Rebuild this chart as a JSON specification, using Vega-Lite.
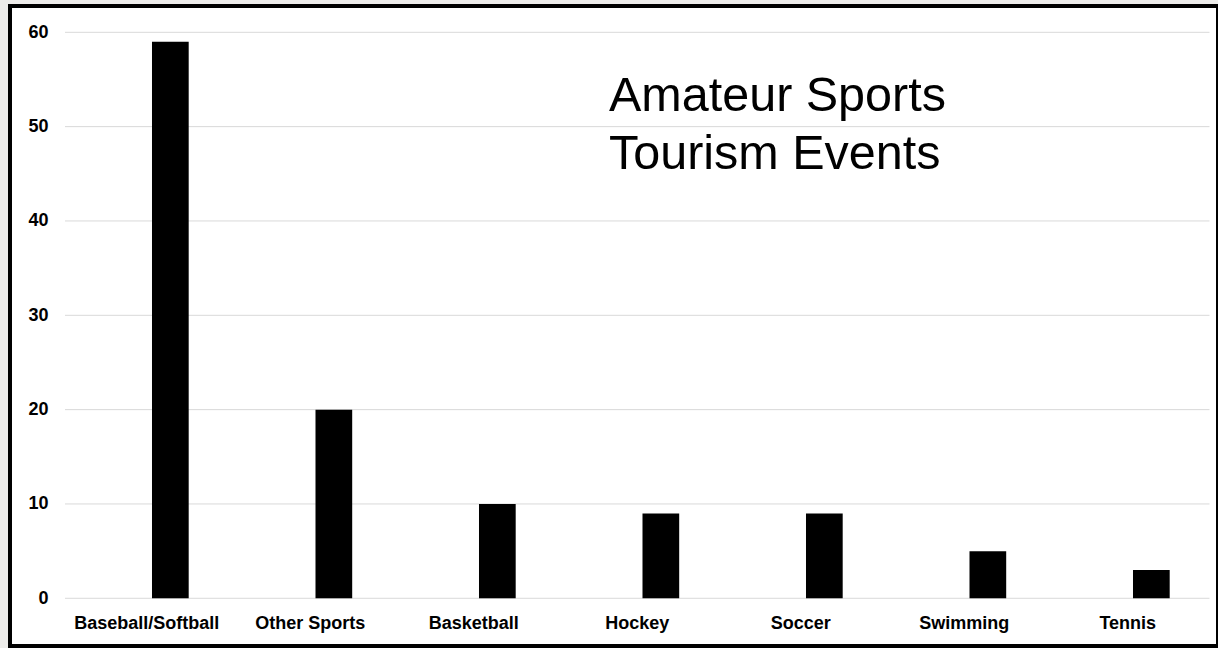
{
  "$schema": "https://vega.github.io/schema/vega-lite/v6.json",
  "width": 1208,
  "height": 640,
  "autosize": {"type": "none"},
  "padding": {"left": 10, "top": 6, "right": 0, "bottom": 2},
  "background": "#edecea",
  "title": {
    "text": ["Amateur Sports", "Tourism Events"],
    "anchor": "start",
    "frame": "group",
    "orient": "top",
    "offset": 0,
    "dx": 599,
    "dy": 211,
    "baseline": "alphabetic",
    "font": "Liberation Sans",
    "fontSize": 48.5,
    "fontWeight": "normal",
    "color": "black",
    "lineHeight": 58
  },
  "datasets": {
    "events": [
      {"sport": "Baseball/Softball", "value": 59, "series": "events"},
      {"sport": "Other Sports", "value": 20, "series": "events"},
      {"sport": "Basketball", "value": 10, "series": "events"},
      {"sport": "Hockey", "value": 9, "series": "events"},
      {"sport": "Soccer", "value": 9, "series": "events"},
      {"sport": "Swimming", "value": 5, "series": "events"},
      {"sport": "Tennis", "value": 3, "series": "events"}
    ],
    "ticks": [
      {"value": 0}, {"value": 10}, {"value": 20}, {"value": 30},
      {"value": 40}, {"value": 50}, {"value": 60}
    ]
  },
  "encoding": {
    "y": {
      "field": "value",
      "type": "quantitative",
      "scale": {"domain": [-5.057, 62.788], "nice": false, "zero": false},
      "axis": {
        "title": null,
        "grid": false,
        "domain": false,
        "ticks": false,
        "tickSize": 0,
        "values": [0, 10, 20, 30, 40, 50, 60],
        "labelPadding": -38,
        "labelFlush": false,
        "labelOverlap": false,
        "labelBound": false,
        "labelFont": "Liberation Sans",
        "labelFontWeight": "bold",
        "labelFontSize": 18,
        "labelColor": "black"
      }
    }
  },
  "layer": [
    {
      "data": {"name": "ticks"},
      "mark": {"type": "rule", "color": "#d9d9d9", "strokeWidth": 1},
      "encoding": {
        "x": {"datum": "Baseball/Softball", "type": "nominal", "bandPosition": 0},
        "x2": {"datum": "Tennis", "bandPosition": 1}
      }
    },
    {
      "data": {"name": "events"},
      "mark": {"type": "bar", "color": "black"},
      "encoding": {
        "x": {
          "field": "sport",
          "type": "nominal",
          "sort": null,
          "scale": {
            "domain": ["Baseball/Softball", "Other Sports", "Basketball", "Hockey", "Soccer", "Swimming", "Tennis"],
            "paddingInner": 0,
            "paddingOuter": 0.1942,
            "align": 0.866
          },
          "axis": {
            "title": null,
            "domain": false,
            "ticks": false,
            "tickSize": 0,
            "labelPadding": -18,
            "labelBaseline": "alphabetic",
            "labelAlign": "center",
            "labelFlush": false,
            "labelBound": false,
            "labelAngle": 0,
            "labelOverlap": false,
            "labelFont": "Liberation Sans",
            "labelFontWeight": "bold",
            "labelFontSize": 18,
            "labelColor": "black"
          }
        },
        "xOffset": {
          "field": "series",
          "scale": {"domain": ["other", "events"], "paddingInner": 0.2225, "paddingOuter": 0.843}
        }
      }
    }
  ],
  "config": {
    "view": {"stroke": "black", "strokeWidth": 4, "fill": "white"}
  }
}
